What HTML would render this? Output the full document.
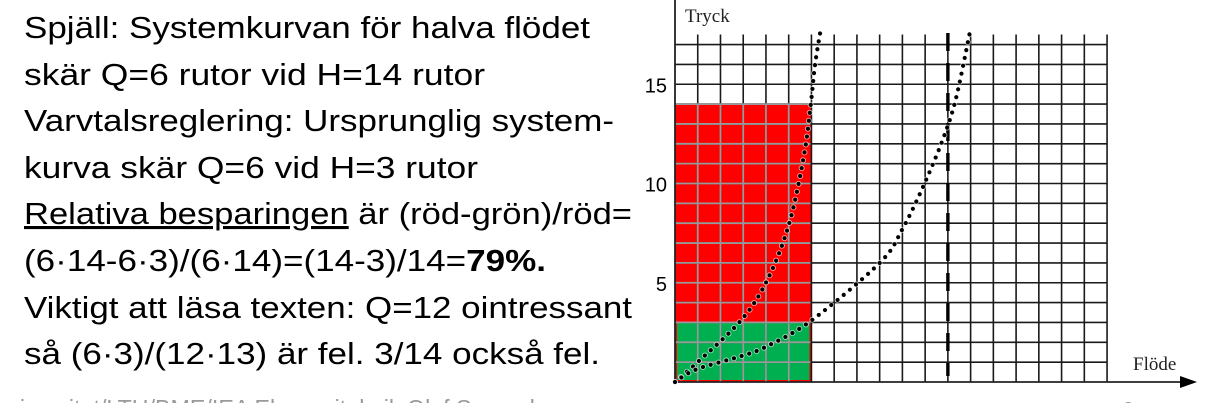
<!DOCTYPE html>
<html><head><meta charset="utf-8">
<style>
html,body{margin:0;padding:0;background:#fff;width:1211px;height:403px;overflow:hidden}
svg{display:block}
.t{font-family:"Liberation Sans",Arial,sans-serif;font-size:31px;fill:#000}
</style></head>
<body>
<svg id="chart" width="1211" height="403" viewBox="0 0 1211 403">
  <g>
    <text class="t" x="24" y="38" textLength="566" lengthAdjust="spacingAndGlyphs">Spjäll: Systemkurvan för halva flödet</text>
    <text class="t" x="24" y="85" textLength="461" lengthAdjust="spacingAndGlyphs">skär Q=6 rutor vid H=14 rutor</text>
    <text class="t" x="24" y="131" textLength="590" lengthAdjust="spacingAndGlyphs">Varvtalsreglering: Ursprunglig system-</text>
    <text class="t" x="24" y="178" textLength="454" lengthAdjust="spacingAndGlyphs">kurva skär Q=6 vid H=3 rutor</text>
    <text class="t" x="24" y="224" textLength="608" lengthAdjust="spacingAndGlyphs"><tspan text-decoration="underline">Relativa besparingen</tspan> är (röd-grön)/röd=</text>
    <text class="t" x="24" y="271" textLength="522" lengthAdjust="spacingAndGlyphs">(6·14-6·3)/(6·14)=(14-3)/14=<tspan font-weight="bold">79%.</tspan></text>
    <text class="t" x="24" y="318" textLength="608" lengthAdjust="spacingAndGlyphs">Viktigt att läsa texten: Q=12 ointressant</text>
    <text class="t" x="24" y="364" textLength="576" lengthAdjust="spacingAndGlyphs">så (6·3)/(12·13) är fel. 3/14 också fel.</text>
    <text x="-6" y="416" font-family="Liberation Sans, sans-serif" font-size="23" fill="#9a9a9a" textLength="590" lengthAdjust="spacingAndGlyphs">universitet/LTH/BME/IEA Elenergiteknik Olof Samuelsson</text>
  </g>
  <g id="plot"></g>
</svg>
<script>
// chart data
const yTicks = [5, 10, 15];
const xTicks = [5, 10];
const halfFlowQ = [0, 1.0, 2.9, 4.04, 5.0, 5.67, 5.97, 6.16, 6.4];
const halfFlowH = [0, 1.0, 3.1, 5.1, 7.9, 11.4, 14, 16, 17.7];
const systemQ = [0, 0.95, 2.9, 4.04, 6, 9.0, 10, 11.05, 11.9, 12.4, 13.0];
const systemH = [0, 0.64, 1.3, 1.8, 3.1, 6.0, 7.7, 10.2, 12.6, 14.5, 17.8];
const redRect = [6, 14];   // Q, H (spjäll)
const greenRect = [6, 3];  // Q, H (varvtal)
const dashedQ = [12];

const NS = 'http://www.w3.org/2000/svg';
const X0 = 675, Y0 = 382, UX = 22.74, UY = 19.85;
const nCols = 19, nRows = 17;
const sx = q => X0 + q * UX;
const sy = h => Y0 - h * UY;
const plot = document.getElementById('plot');
function mk(tag, attrs, parent) {
  const e = document.createElementNS(NS, tag);
  for (const k in attrs) e.setAttribute(k, attrs[k]);
  (parent || plot).appendChild(e);
  return e;
}

// areas
const red = mk('rect', {x: sx(0), y: sy(redRect[1]), width: sx(redRect[0]) - sx(0), height: sy(0) - sy(redRect[1]), fill: '#ff0000'});


const green = mk('rect', {x: sx(0) + 2, y: sy(greenRect[1]), width: sx(greenRect[0]) - sx(0) - 4, height: sy(0) - sy(greenRect[1]) - 2, fill: '#00b050'});



// grid
const grid = mk('g', {});


for (let i = 1; i <= nCols; i++) {
  mk('line', {x1: sx(i), x2: sx(i), y1: sy(nRows) - 10, y2: Y0, stroke: '#1a1a1a', 'stroke-width': 1.6}, grid);
  if (i < redRect[0]) mk('line', {x1: sx(i), x2: sx(i), y1: sy(redRect[1]), y2: Y0, stroke: '#999', 'stroke-width': 1.8}, grid);
}
for (let j = 1; j <= nRows; j++) {
  mk('line', {x1: X0, x2: sx(nCols), y1: sy(j), y2: sy(j), stroke: '#1a1a1a', 'stroke-width': 1.6}, grid);
  if (j <= redRect[1]) mk('line', {x1: X0, x2: sx(redRect[0]) - 1, y1: sy(j), y2: sy(j), stroke: '#999', 'stroke-width': 1.8}, grid);
}

// axes
const ax = mk('g', {});


mk('line', {x1: X0, x2: X0, y1: 0, y2: Y0, stroke: '#222', 'stroke-width': 1.8}, ax);
mk('line', {x1: X0, x2: 1182, y1: Y0, y2: Y0, stroke: '#222', 'stroke-width': 1.8}, ax);
mk('path', {d: `M1197 ${Y0} L1180 ${Y0-6} L1180 ${Y0+6} Z`, fill: '#000'}, ax);

const yt = mk('text', {x: 685, y: 22, 'font-family': 'Liberation Serif, serif', 'font-size': 19, fill: '#222'});
yt.textContent = 'Tryck';


const xt = mk('text', {x: 1133, y: 370, 'font-family': 'Liberation Serif, serif', 'font-size': 19, fill: '#222'});
xt.textContent = 'Flöde';



yTicks.forEach(v => {
  const t = mk('text', {x: 667, y: sy(v) + 8, 'text-anchor': 'end', 'font-family': 'Liberation Sans, sans-serif', 'font-size': 20, fill: '#000'});
  t.textContent = v;
  
  
});
xTicks.forEach(v => {
  const t = mk('text', {x: sx(v) + 2 + (v - 5) * 0.2, y: 418, 'text-anchor': 'middle', 'font-family': 'Liberation Sans, sans-serif', 'font-size': 20, fill: '#000'});
  t.textContent = v;
  
  
});
const pn = mk('text', {x: 1128, y: 416, 'text-anchor': 'middle', 'font-family': 'Liberation Sans, sans-serif', 'font-size': 20, fill: '#9a9a9a'});
pn.textContent = '2';



// dashed line
dashedQ.forEach(q => {
  const d = mk('line', {x1: sx(q), x2: sx(q), y1: 33, y2: Y0 - 6, stroke: '#000', 'stroke-width': 3.4, 'stroke-dasharray': '18 12'});
  
  
});

// smooth dotted curves (Catmull-Rom)
function curve(Q, H, name) {
  const P = Q.map((q, i) => [sx(q), sy(H[i])]);
  let d = 'M' + P[0][0].toFixed(1) + ' ' + P[0][1].toFixed(1);
  for (let i = 0; i < P.length - 1; i++) {
    const p0 = P[Math.max(0, i - 1)], p1 = P[i], p2 = P[i + 1], p3 = P[Math.min(P.length - 1, i + 2)];
    const c1 = [p1[0] + (p2[0] - p0[0]) / 6, p1[1] + (p2[1] - p0[1]) / 6];
    const c2 = [p2[0] - (p3[0] - p1[0]) / 6, p2[1] - (p3[1] - p1[1]) / 6];
    d += ` C${c1[0].toFixed(1)} ${c1[1].toFixed(1)} ${c2[0].toFixed(1)} ${c2[1].toFixed(1)} ${p2[0].toFixed(1)} ${p2[1].toFixed(1)}`;
  }
  const halo = mk('path', {d: d, fill: 'none', stroke: '#fff', 'stroke-width': 6, 'stroke-linecap': 'round', 'stroke-dasharray': '0 8', opacity: 0.6});
  
  
  const p = mk('path', {d: d, fill: 'none', stroke: '#000', 'stroke-width': 4.2, 'stroke-linecap': 'round', 'stroke-dasharray': '0 8'});
  
  
}
curve(halfFlowQ, halfFlowH, 'damper-system-curve');
curve(systemQ, systemH, 'original-system-curve');
</script>
</body></html>
